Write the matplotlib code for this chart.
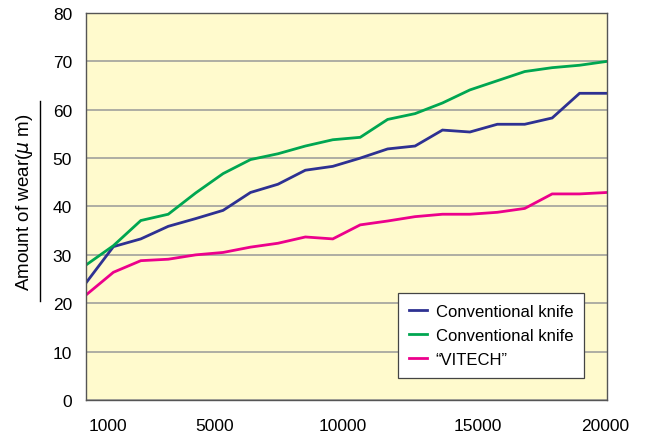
import matplotlib
matplotlib.use("Agg")
import matplotlib.pyplot as plt
from matplotlib.lines import Line2D

plt.rcParams['font.family'] = ['Liberation Sans', 'DejaVu Sans']

distance = [1000, 2000, 3000, 4000, 5000, 6000, 7000, 8000, 9000, 10000,
            11000, 12000, 13000, 14000, 15000, 16000, 17000, 18000, 19000, 20000]
conv_blue = [24.2, 31.7, 33.3, 35.9, 37.5, 39.2, 42.9, 44.6, 47.5, 48.3,
             50.0, 51.9, 52.5, 55.8, 55.4, 57.0, 57.0, 58.3, 63.4, 63.4]
conv_green = [27.9, 31.9, 37.1, 38.4, 42.8, 46.8, 49.7, 50.9, 52.5, 53.8,
              54.3, 58.0, 59.2, 61.4, 64.1, 66.0, 67.9, 68.7, 69.2, 70.0]
vitech = [21.7, 26.4, 28.8, 29.1, 30.0, 30.5, 31.6, 32.4, 33.7, 33.3,
          36.2, 37.0, 37.9, 38.4, 38.4, 38.8, 39.6, 42.6, 42.6, 42.9]
series_labels = ["Conventional knife", "Conventional knife", "\u201cVITECH\u201d"]
xtick_labels = ["1000", "5000", "10000", "15000", "20000"]
yticks = [0, 10, 20, 30, 40, 50, 60, 70, 80]

fig = plt.figure(figsize=(6.45, 4.35), dpi=100)
ax = fig.add_axes([0.1333, 0.0782, 0.8078, 0.8896])
ax.set_facecolor('#FFFACD')

colors = ['#2E3192', '#00A651', '#EC008C']
for ys, c, lab in zip([conv_blue, conv_green, vitech], colors, series_labels):
    ax.plot(distance, ys, color=c, lw=2.0, label=lab, solid_joinstyle='miter')

ax.set_xlim(1000, 20000)
ax.set_ylim(0, 80)
ax.set_yticks(yticks)
ax.yaxis.grid(True, color='#A8A8A0', lw=1.3)
ax.set_axisbelow(True)
# tick label positions as they appear in the reference
ax.set_xticks([1800, 5700, 10370, 15300, 19930])
ax.set_xticklabels(xtick_labels)
ax.tick_params(axis='both', length=0, labelsize=12.5, colors='black')
ax.tick_params(axis='x', pad=13)
ax.tick_params(axis='y', pad=10)
for s in ax.spines.values():
    s.set_color('#555555')
    s.set_linewidth(1.0)

leg = ax.legend(loc='lower right', bbox_to_anchor=(0.956, 0.057), fontsize=12,
                frameon=True, fancybox=False, edgecolor='#444444', facecolor='white',
                framealpha=1, handlelength=1.1, handletextpad=0.5, labelspacing=0.55,
                borderpad=0.65, borderaxespad=0)
leg.get_frame().set_linewidth(0.9)

fig.text(0.038, 0.536, r"Amount of wear($\mu$ m)", rotation=90, fontsize=13.5,
         ha='center', va='center')
fig.add_artist(Line2D([0.062, 0.062], [1 - 302 / 435, 1 - 102 / 435],
                      transform=fig.transFigure, color='black', lw=1.0))

fig.savefig('out.png', dpi=100)
